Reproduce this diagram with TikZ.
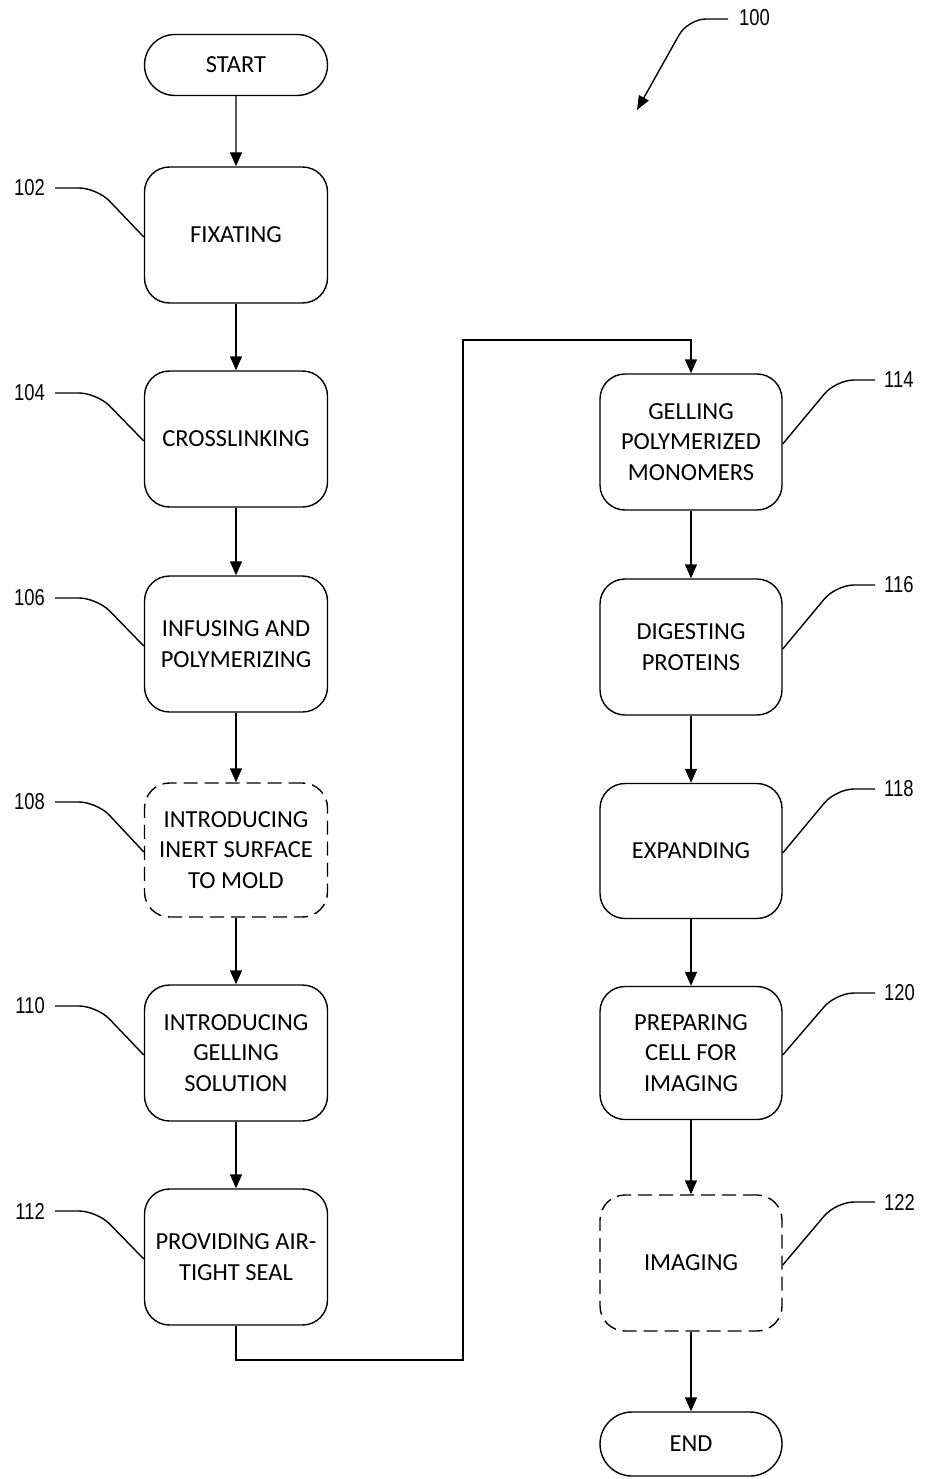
\documentclass[tikz,border=0pt]{standalone}
\usepackage{fontspec}
\setmainfont{Carlito}
\newfontfamily\numfont[FakeStretch=0.8]{Liberation Sans}
\usetikzlibrary{arrows.meta,shapes.misc}
\begin{document}
\begin{tikzpicture}[x=1pt,y=-1pt,
  every node/.style={inner sep=0pt},
  stepbox/.style={draw,line width=1.4pt,rounded corners=25pt,minimum width=183pt,minimum height=136pt,align=center,font=\fontsize{24.5}{30.5}\selectfont},
  optbox/.style={stepbox,dash pattern=on 14pt off 7pt},
  term/.style={draw,line width=1.4pt,rounded rectangle,minimum width=183pt,minimum height=61pt,font=\fontsize{24.5}{30.5}\selectfont},
  flow/.style={line width=1.4pt,-{Triangle[length=14pt,width=12pt]}},
  lead/.style={line width=1.4pt,rounded corners=18pt},
  num/.style={font=\numfont\fontsize{23}{26}\selectfont},
]
\useasboundingbox (0,0) rectangle (924,1479);
% left column
\node[term] (start) at (236,65) {START};
\node[stepbox] (b102) at (236,235) {FIXATING};
\node[stepbox] (b104) at (236,439) {CROSSLINKING};
\node[stepbox] (b106) at (236,644) {INFUSING AND\\POLYMERIZING};
\node[optbox,minimum height=134pt] (b108) at (236,850) {INTRODUCING\\INERT SURFACE\\TO MOLD};
\node[stepbox] (b110) at (236,1053) {INTRODUCING\\GELLING\\SOLUTION};
\node[stepbox] (b112) at (236,1257) {PROVIDING AIR-\\TIGHT SEAL};
% right column
\node[stepbox,minimum width=182pt] (b114) at (691,442) {GELLING\\POLYMERIZED\\MONOMERS};
\node[stepbox,minimum width=182pt] (b116) at (691,647) {DIGESTING\\PROTEINS};
\node[stepbox,minimum width=182pt,minimum height=135pt] (b118) at (691,851) {EXPANDING};
\node[stepbox,minimum width=182pt,minimum height=133pt] (b120) at (691,1053) {PREPARING\\CELL FOR\\IMAGING};
\node[optbox,minimum width=182pt] (b122) at (691,1263) {IMAGING};
\node[term,minimum width=182pt,minimum height=64pt] (end) at (691,1444) {END};
% flow
\draw[flow] (start) -- (b102);
\draw[flow] (b102) -- (b104);
\draw[flow] (b104) -- (b106);
\draw[flow] (b106) -- (b108);
\draw[flow] (b108) -- (b110);
\draw[flow] (b110) -- (b112);
\draw[flow] (b112.south) -- (236,1360) -- (463,1360) -- (463,340) -- (691,340) -- (b114.north);
\draw[flow] (b114) -- (b116);
\draw[flow] (b116) -- (b118);
\draw[flow] (b118) -- (b120);
\draw[flow] (b120) -- (b122);
\draw[flow] (b122) -- (end);
% reference numerals, left
\foreach \n/\y/\b in {102/188/b102,104/393/b104,106/598/b106,108/802/b108,110/1006/b110,112/1211/b112}{
  \node[num,anchor=east] (l\n) at (45,\y) {\n};
  \coordinate (s\n) at (55,\y);
  \draw[lead] (s\n) -- (97,\y) -- ([yshift=-2pt]\b.west);
}
% reference numerals, right
\foreach \n/\y/\b in {114/380/b114,116/585/b116,118/789/b118,120/993/b120,122/1202/b122}{
  \node[num,anchor=west] (l\n) at (884,\y) {\n};
  \coordinate (s\n) at (875,\y);
  \draw[lead] (s\n) -- (836,\y) -- ([yshift=-2pt]\b.east);
}
% figure number
\node[num,anchor=west] (l100) at (739,18) {100};
\coordinate (s100) at (728,19);
\coordinate (t100) at (637,110);
\draw[lead,-{Triangle[length=14pt,width=11pt]}] (s100) -- (688,19) -- (t100);
\end{tikzpicture}
\end{document}
